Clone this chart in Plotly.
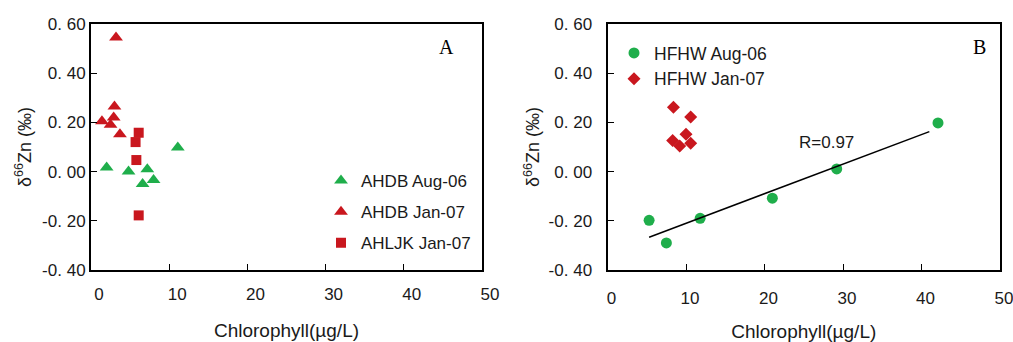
import numpy as np
import plotly.graph_objects as go

# ---- Panel A data ----
ahdb_aug_x = [2.0, 4.8, 7.2, 6.6, 8.0, 11.1]
ahdb_aug_y = [0.017, 0.0, 0.01, -0.05, -0.034, 0.098]
ahdb_jan_x = [3.2, 3.0, 1.4, 2.9, 2.5, 3.7]
ahdb_jan_y = [0.545, 0.265, 0.205, 0.22, 0.19, 0.152]
ahljk_jan_x = [6.1, 5.7, 5.8, 6.1]
ahljk_jan_y = [0.158, 0.12, 0.047, -0.178]

# ---- Panel B data ----
hfhw_aug_x = [5.3, 7.5, 11.8, 21.0, 29.2, 42.1]
hfhw_aug_y = [-0.198, -0.29, -0.19, -0.108, 0.011, 0.198]
hfhw_jan_x = [8.4, 10.6, 10.0, 8.3, 9.2, 10.6]
hfhw_jan_y = [0.262, 0.222, 0.152, 0.126, 0.104, 0.115]
trend_x = [5.3, 41.0]

x_ticks = [0, 10, 20, 30, 40, 50]
y_ticks = [-0.4, -0.2, 0.0, 0.2, 0.4, 0.6]
y_ticktext = ["-0. 40", "-0. 20", "0. 00", "0. 20", "0. 40", "0. 60"]

GREEN = "#1fae4b"
RED = "#c9171e"
FONT = "Liberation Sans, Arial, sans-serif"

# regression for trend line
coef = np.polyfit(hfhw_aug_x, hfhw_aug_y, 1)
trend_y = list(np.polyval(coef, trend_x))

fig = go.Figure()

fig.add_trace(go.Scatter(x=ahdb_aug_x, y=ahdb_aug_y, mode="markers", name="AHDB Aug-06",
                         marker=dict(symbol="triangle-up", size=12, color=GREEN),
                         xaxis="x", yaxis="y", legend="legend", legendgroup="a1"))
fig.add_trace(go.Scatter(x=ahdb_jan_x, y=ahdb_jan_y, mode="markers", name="AHDB Jan-07",
                         marker=dict(symbol="triangle-up", size=12, color=RED),
                         xaxis="x", yaxis="y", legend="legend", legendgroup="a2"))
fig.add_trace(go.Scatter(x=ahljk_jan_x, y=ahljk_jan_y, mode="markers", name="AHLJK Jan-07",
                         marker=dict(symbol="square", size=10, color=RED),
                         xaxis="x", yaxis="y", legend="legend", legendgroup="a3"))

fig.add_trace(go.Scatter(x=hfhw_aug_x, y=hfhw_aug_y, mode="markers", name="HFHW Aug-06",
                         marker=dict(symbol="circle", size=11, color=GREEN),
                         xaxis="x2", yaxis="y2", legend="legend2"))
fig.add_trace(go.Scatter(x=hfhw_jan_x, y=hfhw_jan_y, mode="markers", name="HFHW Jan-07",
                         marker=dict(symbol="diamond", size=10, color=RED),
                         xaxis="x2", yaxis="y2", legend="legend2"))
fig.add_trace(go.Scatter(x=trend_x, y=trend_y, mode="lines", showlegend=False,
                         line=dict(color="black", width=1.5), xaxis="x2", yaxis="y2"))

W, H = 1013, 342
ydom = [(342 - 270) / H, (342 - 24) / H]

xcommon = dict(range=[0, 50], tickvals=x_ticks, ticks="inside", ticklen=6, tickcolor="black",
               showline=True, linecolor="black", linewidth=2, mirror=True, showgrid=False,
               zeroline=False, automargin=False, ticklabeloverflow="allow",
               tickfont=dict(family=FONT, size=17, color="#1a1a1a"),
               title=dict(text="Chlorophyll(µg/L)", font=dict(family=FONT, size=19, color="#1a1a1a"),
                          standoff=20))
ycommon = dict(range=[-0.4, 0.6], tickvals=y_ticks, ticktext=y_ticktext, ticks="inside", ticklen=6,
               tickcolor="black", showline=True, linecolor="black", linewidth=2, mirror=True,
               showgrid=False, zeroline=False, automargin=False, ticklabeloverflow="allow",
               tickfont=dict(family=FONT, size=17, color="#1a1a1a"),
               title=dict(text="δ<sup>66</sup>Zn (‰)", font=dict(family=FONT, size=18, color="#1a1a1a")))

fig.update_layout(
    width=W, height=H, margin=dict(l=0, r=0, t=0, b=0, autoexpand=False),
    paper_bgcolor="white", plot_bgcolor="white",
    xaxis=dict(xcommon, domain=[91 / W, 482 / W], anchor="y", ticklabelshift=8, ticklabelstandoff=8),
    yaxis=dict(ycommon, domain=ydom, anchor="x", ticklabelstandoff=0,
               title=dict(ycommon["title"], standoff=6)),
    xaxis2=dict(xcommon, domain=[607.5 / W, 1000 / W], anchor="y2", ticklabelshift=4, ticklabelstandoff=12),
    yaxis2=dict(ycommon, domain=ydom, anchor="x2", ticklabelstandoff=10,
                title=dict(ycommon["title"], standoff=4)),
    legend=dict(x=321 / W, y=(342 - 163) / H, xanchor="left", yanchor="top",
                bgcolor="rgba(0,0,0,0)", font=dict(family=FONT, size=17, color="#1a1a1a"),
                tracegroupgap=6, itemwidth=30),
    legend2=dict(x=614 / W, y=(342 - 35) / H, xanchor="left", yanchor="top",
                 bgcolor="rgba(0,0,0,0)", font=dict(family=FONT, size=17.5, color="#1a1a1a"),
                 tracegroupgap=0),
    annotations=[
        dict(text="A", x=446 / W, y=(342 - 47) / H, xref="paper", yref="paper", showarrow=False,
             xanchor="center", yanchor="middle",
             font=dict(family="Liberation Serif, Times New Roman, serif", size=20, color="black")),
        dict(text="B", x=979 / W, y=(342 - 47) / H, xref="paper", yref="paper", showarrow=False,
             xanchor="center", yanchor="middle",
             font=dict(family="Liberation Serif, Times New Roman, serif", size=20, color="black")),
        dict(text="R=0.97", x=826 / W, y=(342 - 142) / H, xref="paper", yref="paper", showarrow=False,
             xanchor="center", yanchor="middle",
             font=dict(family=FONT, size=17, color="#1a1a1a")),
    ],
)

fig.write_html("out.html")
